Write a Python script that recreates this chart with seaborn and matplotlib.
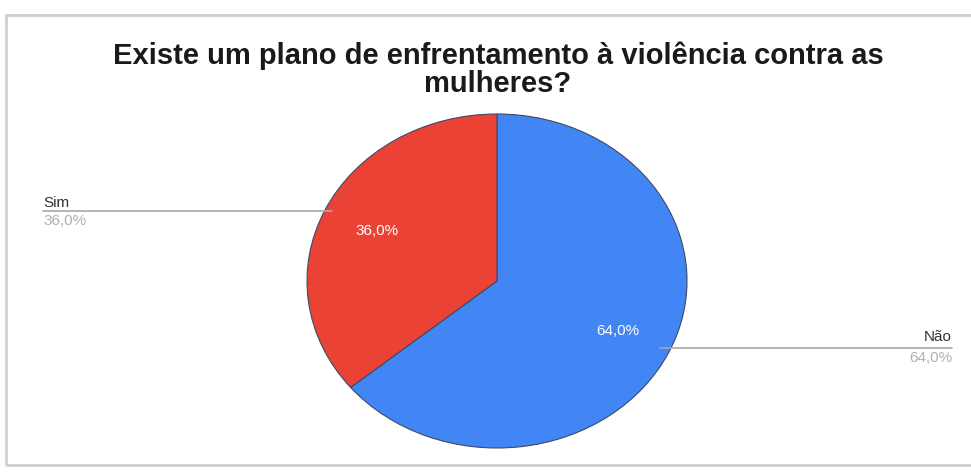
import matplotlib
matplotlib.use("Agg")
import matplotlib.pyplot as plt
import seaborn as sns
from matplotlib.patches import Rectangle

# data
categories = ["Não", "Sim"]
shares = [64.0, 36.0]
colors = ["#4285F4", "#EA4335"]
title = "Existe um plano de enfrentamento à violência contra as\nmulheres?"

sns.set_theme(style="white")
plt.rcParams["font.family"] = ["Liberation Sans", "DejaVu Sans"]

W, H = 971, 473
fig = plt.figure(figsize=(W / 100, H / 100), dpi=100)
fig.patch.set_facecolor("white")

# light gray card frame
fig.add_artist(Rectangle((6 / W, 1 - 465 / H), 1.2, (465 - 15) / H,
                         transform=fig.transFigure, fill=False,
                         edgecolor="#cfcfcf", linewidth=2))

fig.text(498 / W, 1 - 70 / H, title, ha="center", va="center",
         fontsize=21, fontweight="bold", color="#1a1a1a", linespacing=0.98)

# pie axes, stretched a bit horizontally like the screenshot
cx, cy, rx, ry = 497, 281, 190, 167
ax = fig.add_axes([(cx - rx) / W, 1 - (cy + ry) / H, 2 * rx / W, 2 * ry / H])


def fmt(p):
    return f"{p:.1f}%".replace(".", ",")


wedges, texts, autotexts = ax.pie(
    shares, colors=colors, startangle=90, counterclock=False,
    autopct=fmt, pctdistance=0.7,
    wedgeprops=dict(edgecolor="#3c4a66", linewidth=0.8),
    textprops=dict(color="white", fontsize=11),
)
ax.set_aspect("auto")
ax.set_xlim(-1, 1)
ax.set_ylim(-1, 1)
ax.axis("off")

# outside labels with leader lines
fig.add_artist(plt.Line2D([43 / W, 332 / W], [1 - 211 / H, 1 - 211 / H],
                          transform=fig.transFigure, color="#a8a8a8", lw=1.2))
fig.text(43 / W, 1 - 207 / H, categories[1], ha="left", va="baseline",
         fontsize=11, color="#333333")
fig.text(43 / W, 1 - 214 / H, fmt(shares[1]), ha="left", va="top",
         fontsize=11, color="#b0b0b0")

fig.add_artist(plt.Line2D([660 / W, 952 / W], [1 - 348 / H, 1 - 348 / H],
                          transform=fig.transFigure, color="#a8a8a8", lw=1.2))
fig.text(952 / W, 1 - 341 / H, categories[0], ha="right", va="baseline",
         fontsize=11, color="#333333")
fig.text(952 / W, 1 - 351 / H, fmt(shares[0]), ha="right", va="top",
         fontsize=11, color="#b0b0b0")

fig.savefig("out.png", dpi=100, facecolor="white")
